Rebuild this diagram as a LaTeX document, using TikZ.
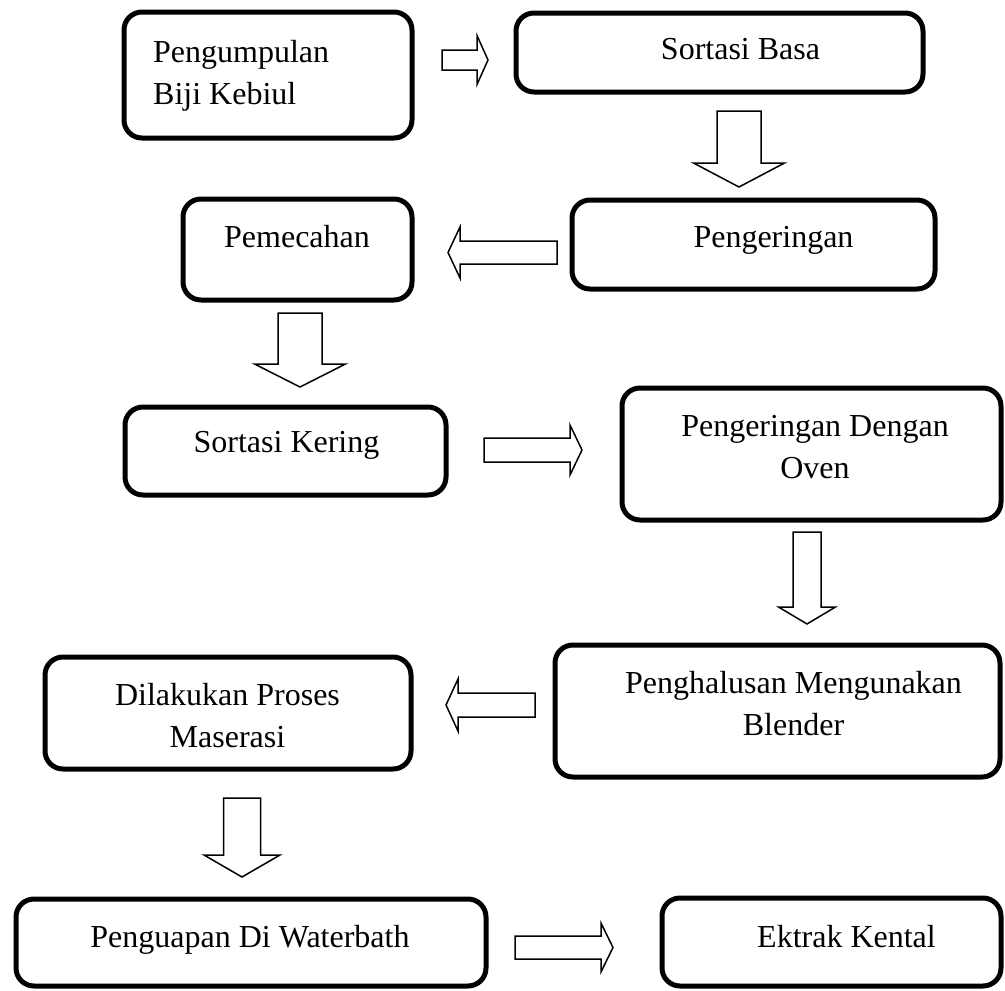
\documentclass[tikz,border=0pt]{standalone}
\usepackage{fontspec}
\setmainfont{Liberation Serif}
\tikzset{
  box/.style={draw, rectangle, rounded corners=18pt, line width=5pt, inner sep=0pt},
  lbl/.style={inner sep=0pt, font=\fontsize{32}{42}\selectfont},
  barrow/.style={draw, line width=1.5pt, fill=white, line join=miter},
}
% tail x, tail y, angle, length, shaft half width, head half width, head length
\newcommand\blockarrow[7]{%
  \draw[barrow, shift={(#1,#2)}, rotate=#3]
    (0,-#5) -- (#4-#7,-#5) -- (#4-#7,-#6) -- (#4,0) -- (#4-#7,#6) -- (#4-#7,#5) -- (0,#5) -- cycle;}
\begin{document}
\begin{tikzpicture}[x=1pt,y=-1pt]
\fill[white] (0,0) rectangle (1005,991);
\useasboundingbox (0,0) rectangle (1005,991);

% boxes
\node[box, minimum width=288pt, minimum height=126pt] (b1) at (268,75) {};
\node[box, minimum width=407pt, minimum height=79pt] (b2) at (719.5,52.5) {};
\node[box, minimum width=363pt, minimum height=89pt] (b3) at (753.5,244.5) {};
\node[box, minimum width=229pt, minimum height=101pt] (b4) at (297.5,249.5) {};
\node[box, minimum width=321pt, minimum height=88pt] (b5) at (285.5,451) {};
\node[box, minimum width=379pt, minimum height=132pt] (b6) at (811.5,454) {};
\node[box, minimum width=445pt, minimum height=132pt] (b7) at (777.5,711) {};
\node[box, minimum width=366pt, minimum height=112pt] (b8) at (228,713) {};
\node[box, minimum width=470pt, minimum height=87pt] (b9) at (251,942.5) {};
\node[box, minimum width=339pt, minimum height=88pt] (b10) at (831.5,942) {};

% texts
\node[lbl, anchor=base west] (t1) at (153,62) {\begin{tabular}[t]{@{}l@{}}Pengumpulan\\Biji Kebiul\end{tabular}};
\node[lbl, anchor=base] (t2) at (740.5,59) {Sortasi Basa};
\node[lbl, anchor=base] (t3) at (773.5,247) {Pengeringan};
\node[lbl, anchor=base] (t4) at (297,247) {Pemecahan};
\node[lbl, anchor=base] (t5) at (286.5,452) {Sortasi Kering};
\node[lbl, anchor=base] (t6) at (815,436) {\begin{tabular}[t]{@{}c@{}}Pengeringan Dengan\\Oven\end{tabular}};
\node[lbl, anchor=base] (t7) at (793.5,693) {\begin{tabular}[t]{@{}c@{}}Penghalusan Mengunakan\\Blender\end{tabular}};
\node[lbl, anchor=base] (t8) at (227.5,705) {\begin{tabular}[t]{@{}c@{}}Dilakukan Proses\\Maserasi\end{tabular}};
\node[lbl, anchor=base] (t9) at (250,947) {Penguapan Di Waterbath};
\node[lbl, anchor=base] (t10) at (846.5,947) {Ektrak Kental};

% block arrows
\blockarrow{442}{60}{0}{46}{10}{24.5}{11}
\blockarrow{739}{111}{-90}{76}{22}{45.5}{24}
\blockarrow{557}{252.5}{180}{109}{11.5}{25.5}{12}
\blockarrow{300}{313}{-90}{74}{22}{45.5}{23}
\blockarrow{484}{450}{0}{98}{12}{25}{12}
\blockarrow{807}{532}{-90}{92}{14}{28.5}{17}
\blockarrow{535}{705}{180}{89}{12}{26}{12}
\blockarrow{242}{798}{-90}{79}{18.5}{38}{22}
\blockarrow{515}{947.5}{0}{98}{11.5}{24.5}{12}
\end{tikzpicture}
\end{document}
